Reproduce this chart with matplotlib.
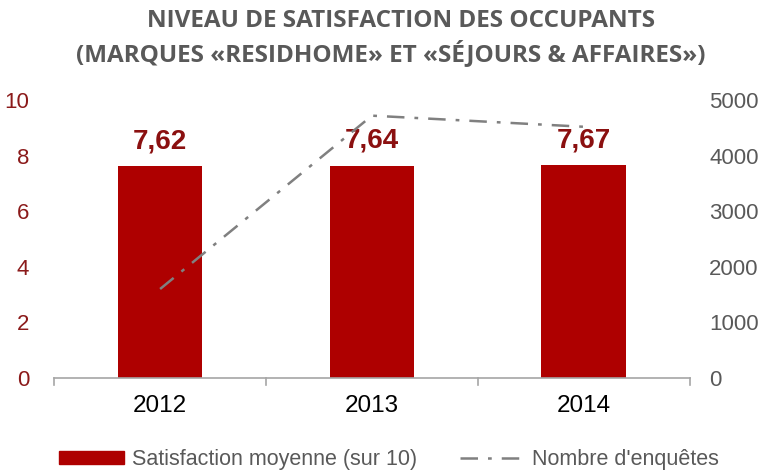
import matplotlib
matplotlib.use("Agg")
import matplotlib.pyplot as plt
from matplotlib.patches import Patch
from matplotlib.lines import Line2D
import numpy as np

years = ["2012", "2013", "2014"]
satisfaction = [7.62, 7.64, 7.67]
labels = ["7,62", "7,64", "7,67"]
enquetes = [1600, 4720, 4520]
left_ticks = [0, 2, 4, 6, 8, 10]
right_ticks = [0, 1000, 2000, 3000, 4000, 5000]

plt.rcParams['font.family'] = ['Liberation Sans', 'DejaVu Sans']

fig = plt.figure(figsize=(7.63, 4.70), dpi=100)
ax = fig.add_axes([0.071, 0.196, 0.833, 0.591])
x = np.arange(len(years))
ax.bar(x, satisfaction, width=0.4, color="#AE0000", zorder=2)
ax.set_xlim(-0.5, 2.5)
ax.set_ylim(0, 10)
ax.set_yticks(left_ticks)
ax.set_yticklabels([str(t) for t in left_ticks], color="#8B1A1A", fontsize=16)
ax.set_xticks(x)
ax.set_xticklabels(years, fontsize=17.5, color="black")
ax.tick_params(axis='y', length=0, pad=18)
ax.tick_params(axis='x', length=0, pad=12)
for s in ["top", "left", "right"]:
    ax.spines[s].set_visible(False)
ax.spines["bottom"].set_color("#A6A6A6")
ax.spines["bottom"].set_linewidth(1.2)
for b in [-0.5, 0.5, 1.5, 2.5]:
    ax.plot([b, b], [0, -0.25], color="#A6A6A6", lw=1.2, clip_on=False, zorder=1)

for xi, v, lab in zip(x, satisfaction, labels):
    ax.text(xi, v + 0.42, lab, ha="center", va="bottom", fontsize=20, fontweight="bold",
            color="#8B1010")

ax2 = ax.twinx()
ax2.set_ylim(0, 5000)
ax2.plot(x, enquetes, color="#808080", lw=1.8, linestyle=(0, (7, 4, 1.5, 4)), zorder=3)
ax2.set_yticks(right_ticks)
ax2.set_yticklabels([str(t) for t in right_ticks], color="#595959", fontsize=16)
ax2.tick_params(axis='y', length=0, pad=14)
for s in ["top", "left", "right", "bottom"]:
    ax2.spines[s].set_visible(False)

fig.text(0.525, 0.955, "NIVEAU DE SATISFACTION DES OCCUPANTS", ha="center", va="center",
         fontsize=17.5, fontweight="bold", color="#595959", family=['Open Sans', 'DejaVu Sans'])
fig.text(0.512, 0.887, "(MARQUES «RESIDHOME» ET «SÉJOURS & AFFAIRES»)", ha="center", va="center",
         fontsize=17.5, fontweight="bold", color="#595959", family=['Open Sans', 'DejaVu Sans'])

handles = [Patch(facecolor="#AE0000", edgecolor="#AE0000"),
           Line2D([0], [0], color="#808080", lw=1.8, linestyle=(0, (7, 4, 1.5, 4)))]
leg = fig.legend(handles, ["Satisfaction moyenne (sur 10)", "Nombre d'enquêtes"],
                 loc="center", bbox_to_anchor=(0.51, 0.022), ncol=2, frameon=False,
                 fontsize=15.5, handlelength=3.0, handleheight=0.55, columnspacing=2.0,
                 handletextpad=0.35)
for t in leg.get_texts():
    t.set_color("#595959")

fig.savefig("out.png", dpi=100)
